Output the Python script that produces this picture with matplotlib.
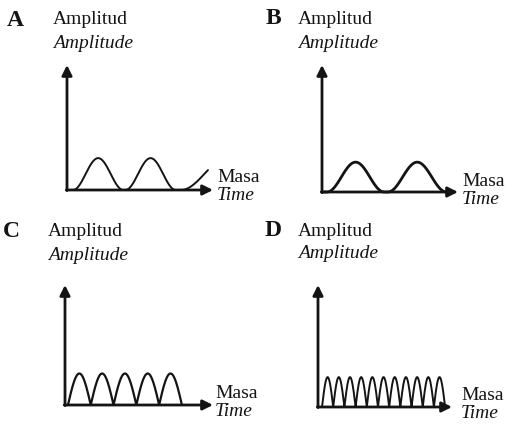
import numpy as np
import matplotlib.pyplot as plt

# four panels: label, hump starts / widths / heights (time axis 0..10, amplitude axis 0..4)
labels = ['A', 'B', 'C', 'D']
starts = [[0.41, 4.0, 7.8],
          [0.37, 4.85],
          [0.2, 1.74, 3.28, 4.82, 6.36],
          [0.3, 1.135, 1.97, 2.805, 3.64, 4.475, 5.31, 6.145, 6.98, 7.815, 8.65]]
widths = [[3.45, 3.45, 6.4],
          [4.2, 4.3],
          [1.54] * 5,
          [0.835] * 11]
heights = [1.02, 0.94, 1.05, 0.98]
last_part = [0.29, 1.0, 1.0, 1.0]   # how much of the last hump is drawn
shapes = ['bell', 'bell', 'arch', 'arch']
ylab1 = 'Amplitud'
ylab2 = 'Amplitude'
xlab1 = 'Masa'
xlab2 = 'Time'

W, H = 509, 426
# axes boxes in pixels: origin x, origin y, arrow tip x, arrow tip y
boxes = [(67, 190, 213, 65), (322, 192, 458, 65), (65, 405, 213, 285), (318, 407, 452, 285)]
# text anchors in pixels
letter_pos = [(7, 20), (266, 19), (3, 231), (265, 230)]
ylab_pos = [(53, 20), (298, 20), (48, 232), (298, 231)]
xlab_pos = [(217, 177), (462, 181), (215, 393), (461, 396)]
wave_lw = [1.4, 2.0, 1.6, 1.4]

ink = '#141414'
plt.rcParams['font.family'] = ['Liberation Serif', 'DejaVu Serif']

fig = plt.figure(figsize=(W / 100, H / 100), dpi=100)

def fx(x):
    return x / W

def fy(y):
    return 1 - y / H

for i in range(4):
    x0, y0, x1, y1 = boxes[i]
    ax = fig.add_axes([fx(x0), fy(y0), fx(x1) - fx(x0), fy(y1) - fy(y0)])
    ax.set_xlim(0, 10)
    ax.set_ylim(0, 4)
    ax.axis('off')

    # axis arrows
    ax.annotate('', xy=(1, 0), xytext=(-0.005, 0), xycoords='axes fraction',
                arrowprops=dict(arrowstyle='-|>', lw=2, color=ink, mutation_scale=15,
                                shrinkA=0, shrinkB=0))
    ax.annotate('', xy=(0, 1), xytext=(0, -0.005), xycoords='axes fraction',
                arrowprops=dict(arrowstyle='-|>', lw=2, color=ink, mutation_scale=15,
                                shrinkA=0, shrinkB=0))

    # wave
    xs, ys = [0], [0]
    n = len(starts[i])
    for k, s in enumerate(starts[i]):
        frac = last_part[i] if k == n - 1 else 1.0
        t = np.linspace(0, frac, 60)
        if shapes[i] == 'bell':
            v = (1 - np.cos(2 * np.pi * t)) / 2
        else:
            v = np.sin(np.pi * t)
        xs += list(s + t * widths[i][k])
        ys += list(v * heights[i])
    ax.plot(xs, ys, color=ink, lw=wave_lw[i], solid_capstyle='round', clip_on=False)

    # text
    lx, ly = letter_pos[i]
    fig.text(fx(lx), fy(ly), labels[i], fontsize=17, fontweight='bold', color=ink,
             va='center', ha='left')
    tx, ty = ylab_pos[i]
    fig.text(fx(tx), fy(ty), ylab1, fontsize=14, color=ink, va='center', ha='left')
    fig.text(fx(tx), fy(ty + 23), ylab2, fontsize=14, style='italic', color=ink,
             va='center', ha='left')
    mx, my = xlab_pos[i]
    fig.text(fx(mx), fy(my), xlab1, fontsize=14, color=ink, va='center', ha='left')
    fig.text(fx(mx), fy(my + 18), xlab2, fontsize=14, style='italic', color=ink,
             va='center', ha='left')

plt.savefig('out.png', dpi=100)
